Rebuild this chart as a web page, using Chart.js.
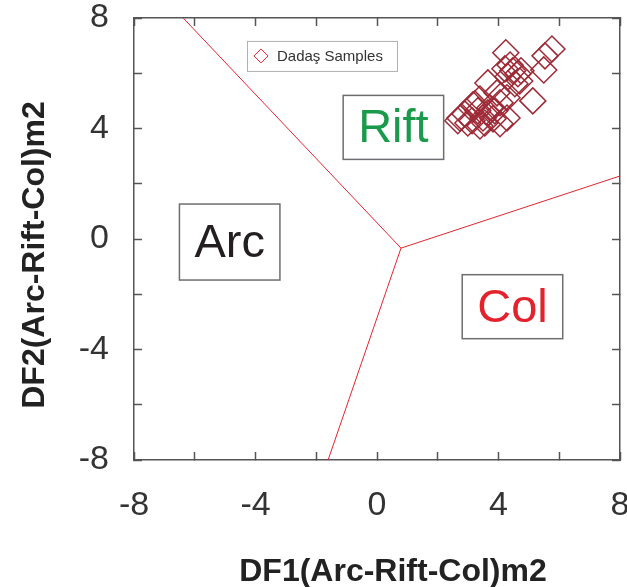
<!DOCTYPE html>
<html>
<head>
<meta charset="utf-8">
<script src="https://cdn.jsdelivr.net/npm/chart.js@4.4.1/dist/chart.umd.min.js"></script>
<style>
  html, body { margin: 0; padding: 0; background: #fff; }
  #wrap { width: 627px; height: 587px; }
</style>
</head>
<body>
<div id="wrap"><canvas id="df-chart"></canvas></div>
<script>
// Dadaş samples, DF1 / DF2
const sampleX = [
  4.24, 5.76, 5.53, 5.49, 5.13, 4.38, 4.47, 4.64, 4.74, 4.31,
  4.21, 3.65, 3.39, 3.22, 3.95, 4.28, 4.05, 3.72, 3.16, 2.89,
  2.73, 3.13, 3.49, 3.82, 4.28, 3.39, 4.05, 3.65, 2.99, 2.66,
  3.88, 3.32, 3.55, 4.54, 4.70,
];
const sampleY = [
  6.74, 6.88, 6.63, 6.12, 5.00, 6.30, 6.09, 5.98, 6.09, 5.87,
  6.16, 5.65, 5.07, 4.89, 5.29, 5.11, 4.93, 4.75, 4.86, 4.53,
  4.38, 4.28, 4.38, 4.35, 4.38, 4.09, 4.17, 4.57, 4.20, 4.28,
  4.64, 4.64, 4.20, 5.62, 5.72,
];
// Field boundaries: from the triple point out to the frame
const triplePoint = [0.79, -0.33];
const boundaryEnds = [[-6.38, 8], [8, 2.28], [-1.61, -8]];
// Field names and where they sit (data units)
const fieldNames = ['Arc', 'Rift', 'Col'];
const fieldAt = [[-4.85, -0.11], [0.54, 4.04], [4.46, -2.45]];
const fieldColors = ['#231f20', '#1a9a4b', '#e3222b'];
// Labelled ticks and titles
const axisTicks = [-8, -4, 0, 4, 8];
const xTitle = 'DF1(Arc-Rift-Col)m2';
const yTitle = 'DF2(Arc-Rift-Col)m2';
const legendLabel = 'Dadaş Samples';
const legendAt = [-4.28, 7.17];

const FONT = '"Liberation Sans", Arial, sans-serif';
const AXIS = '#555';
const POINT = '#9e2a36';
const LINE = '#e3262e';

Chart.defaults.font.family = FONT;

const fieldLabels = {
  id: 'fieldLabels',
  afterDatasetsDraw(c) {
    const { ctx, chartArea: area, scales: { x, y } } = c;
    ctx.save();
    // Field name boxes
    ctx.font = `47px ${FONT}`;
    ctx.textAlign = 'center';
    ctx.textBaseline = 'middle';
    fieldNames.forEach((name, i) => {
      const px = x.getPixelForValue(fieldAt[i][0]);
      const py = y.getPixelForValue(fieldAt[i][1]);
      const w = ctx.measureText(name).width + 30;
      const h = i === 0 ? 76 : 64;
      ctx.strokeStyle = '#6d6e71';
      ctx.lineWidth = 1.5;
      ctx.strokeRect(px - w / 2, py - h / 2, w, h);
      ctx.fillStyle = fieldColors[i];
      ctx.fillText(name, px, py + 2);
    });
    // Legend box
    const lx = x.getPixelForValue(legendAt[0]);
    const ly = y.getPixelForValue(legendAt[1]);
    ctx.strokeStyle = '#b0b0b0';
    ctx.lineWidth = 1;
    ctx.strokeRect(lx + 0.5, ly + 0.5, 150, 30);
    ctx.strokeStyle = LINE;
    ctx.fillStyle = '#fff';
    Chart.helpers.drawPoint(ctx, {
      pointStyle: 'rectRot', radius: 7, rotation: 0, borderWidth: 1.5,
    }, lx + 14, ly + 15);
    ctx.font = `15px ${FONT}`;
    ctx.fillStyle = '#333';
    ctx.textAlign = 'left';
    ctx.fillText(legendLabel, lx + 30, ly + 16);
    // Axis titles (sit a little past the centre of the frame)
    ctx.font = `bold 32px ${FONT}`;
    ctx.fillStyle = '#222';
    ctx.textAlign = 'center';
    ctx.fillText(xTitle, (area.left + area.right) / 2 + 16, c.height - 15);
    ctx.translate(35, (area.top + area.bottom) / 2 + 16);
    ctx.rotate(-Math.PI / 2);
    ctx.fillText(yTitle, 0, 0);
    ctx.restore();
  },
};

const frameAxis = (position) => ({
  type: 'linear',
  position,
  min: -8,
  max: 8,
  ticks: { display: false, stepSize: 2 },
  grid: { drawOnChartArea: false, tickLength: -8, color: AXIS, tickWidth: 1.5 },
  border: { color: AXIS, width: 1.5 },
  afterFit: (s) => { if (position === 'top') s.height = 0; else s.width = 0; },
});

const mainAxis = (which) => ({
  type: 'linear',
  position: which === 'x' ? 'bottom' : 'left',
  min: -8,
  max: 8,
  ticks: {
    stepSize: 2,
    padding: 33,
    color: '#333',
    font: { size: 34 },
    callback: (v) => (axisTicks.includes(v) ? `${v}` : ''),
  },
  grid: { drawOnChartArea: false, tickLength: -8, color: AXIS, tickWidth: 1.5 },
  border: { color: AXIS, width: 1.5 },
  afterFit: (s) => {
    if (which === 'x') { s.height = 127; s.paddingRight = 0; s.paddingLeft = 0; } else { s.width = 134; s.paddingTop = 0; s.paddingBottom = 0; }
  },
});

const ctx = document.getElementById('df-chart');
// eslint-disable-next-line no-unused-vars
const chart = new Chart(ctx, {
  type: 'scatter',
  data: {
    datasets: [
      ...boundaryEnds.map((e) => ({
        label: 'boundary',
        data: [{ x: triplePoint[0], y: triplePoint[1] }, { x: e[0], y: e[1] }],
        showLine: true,
        borderColor: LINE,
        borderWidth: 1,
        pointRadius: 0,
      })),
      {
        label: legendLabel,
        data: sampleX.map((v, i) => ({ x: v, y: sampleY[i] })),
        pointStyle: 'rectRot',
        pointRadius: 13,
        borderColor: POINT,
        backgroundColor: 'transparent',
        borderWidth: 1.5,
      },
    ],
  },
  options: {
    animation: false,
    responsive: true,
    maintainAspectRatio: false,
    layout: { autoPadding: false, padding: { top: 18, right: 7, bottom: 0, left: 0 } },
    scales: {
      x: mainAxis('x'),
      y: mainAxis('y'),
      x2: frameAxis('top'),
      y2: frameAxis('right'),
    },
    plugins: {
      legend: { display: false },
      tooltip: { enabled: false },
    },
  },
  plugins: [fieldLabels],
});
</script>
</body>
</html>
